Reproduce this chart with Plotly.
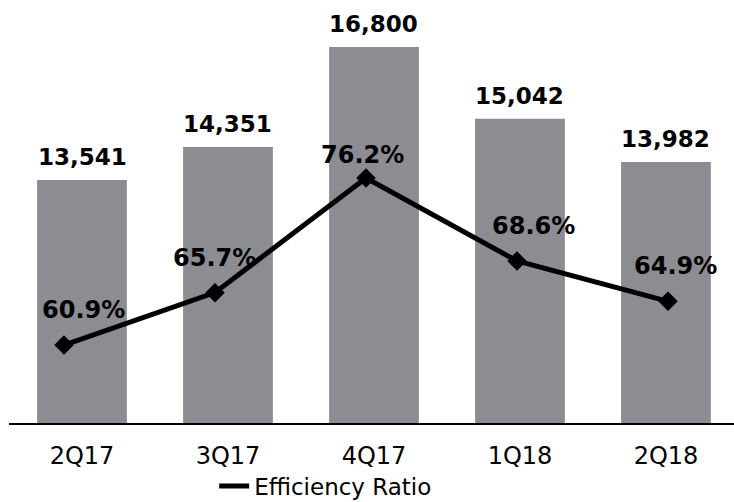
import plotly.graph_objects as go

# Quarterly figures
quarters = ["2Q17", "3Q17", "4Q17", "1Q18", "2Q18"]
bar_values = [13541, 14351, 16800, 15042, 13982]
efficiency_ratio = [60.9, 65.7, 76.2, 68.6, 64.9]

# label offsets (px) for the ratio labels, relative to each marker
pct_label_dx = [20, 0, -3, 16, 7]
pct_label_dy = [35, 35, 23, 35, 35]

BAR_COLOR = "#8b8d92"
FONT = "DejaVu Sans"

fig = go.Figure()

fig.add_trace(go.Bar(
    x=quarters, y=bar_values,
    marker=dict(color=BAR_COLOR, line=dict(width=0)),
    showlegend=False, hoverinfo="skip",
    xaxis="x", yaxis="y",
))

fig.add_trace(go.Scatter(
    x=quarters, y=efficiency_ratio,
    mode="lines+markers", name="Efficiency Ratio",
    line=dict(color="black", width=5),
    marker=dict(symbol="diamond", size=15, color="black"),
    xaxis="x2", yaxis="y2", showlegend=False,
))

# legend entry shows only the line style
fig.add_trace(go.Scatter(
    x=[None], y=[None], mode="lines", name="Efficiency Ratio",
    line=dict(color="black", width=5),
    xaxis="x2", yaxis="y2", showlegend=True,
))

annotations = []
for q, v in zip(quarters, bar_values):
    annotations.append(dict(
        x=q, y=v, xref="x", yref="y", text=f"{v:,}", showarrow=False,
        yanchor="middle", xanchor="center", yshift=23,
        font=dict(family=FONT, size=23, color="black", weight="bold"),
    ))
for q, r, dx, dy in zip(quarters, efficiency_ratio, pct_label_dx, pct_label_dy):
    annotations.append(dict(
        x=q, y=r, xref="x2", yref="y2", text=f"{r:.1f}%", showarrow=False,
        yanchor="middle", xanchor="center", xshift=dx, yshift=dy,
        font=dict(family=FONT, size=24, color="black", weight="bold"),
    ))

fig.update_layout(
    width=734, height=502,
    margin=dict(l=9, r=0, t=0, b=79, autoexpand=False),
    paper_bgcolor="white", plot_bgcolor="white",
    font=dict(family=FONT, size=23, color="black"),
    bargap=0.385,
    xaxis=dict(
        type="category", range=[-0.5, 4.466],
        showline=True, linecolor="black", linewidth=1.5,
        showgrid=False, zeroline=False, ticks="",
        ticklabelstandoff=10, automargin=False,
        tickfont=dict(family=FONT, size=24, color="black"),
    ),
    xaxis2=dict(
        type="category", range=[-0.364, 4.437], overlaying="x",
        visible=False,
    ),
    yaxis=dict(range=[7587, 17950], visible=False),
    yaxis2=dict(range=[53.76, 92.5], overlaying="y", visible=False),
    legend=dict(
        orientation="h", x=0.283, xanchor="left",
        yref="container", y=0.032, yanchor="middle",
        font=dict(family=FONT, size=23, color="black"),
        bgcolor="rgba(0,0,0,0)",
    ),
    annotations=annotations,
)

fig.write_html("out.html")
